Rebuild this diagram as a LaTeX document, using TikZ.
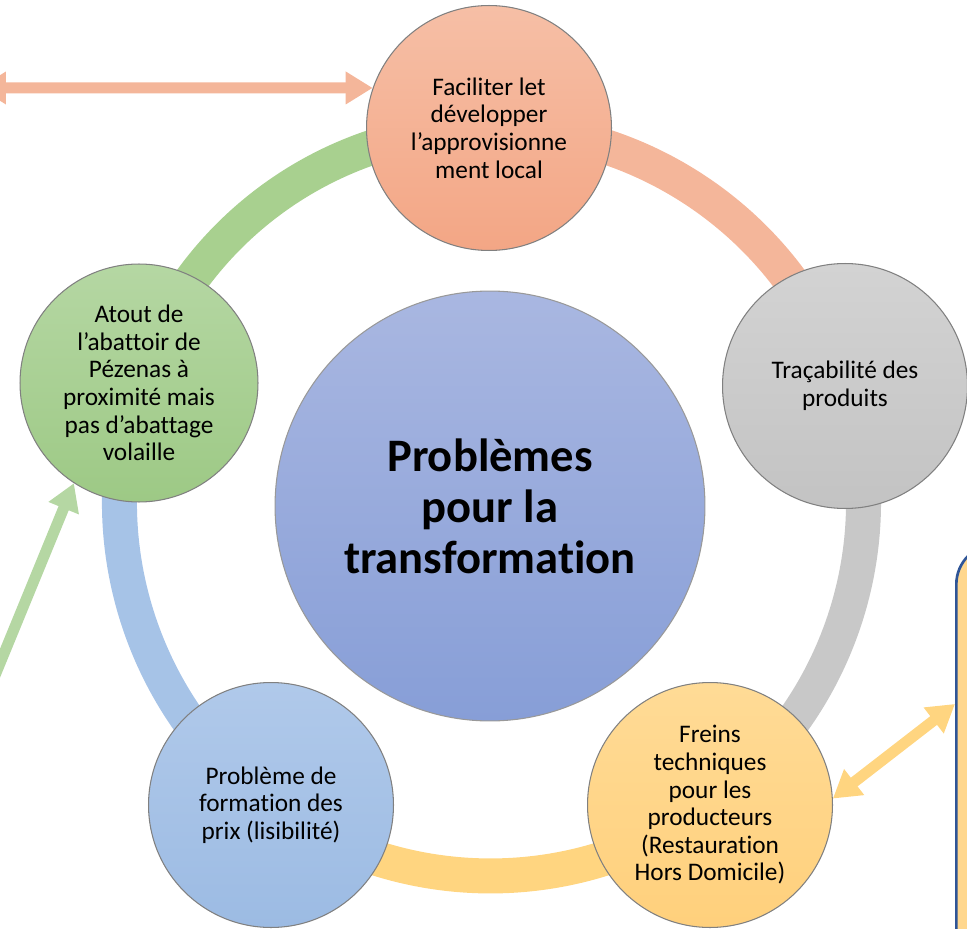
\documentclass[tikz,border=0pt]{standalone}
\usepackage{fontspec}
\setmainfont{Carlito}[Ligatures = NoCommon]
\usetikzlibrary{arrows.meta}
\usetikzlibrary{backgrounds}

\definecolor{salmonTop}{HTML}{F6BFA6}
\definecolor{salmonBot}{HTML}{F3A685}
\definecolor{salmonRing}{HTML}{F4B69A}
\definecolor{grayTop}{HTML}{D3D3D3}
\definecolor{grayBot}{HTML}{C3C3C3}
\definecolor{grayRing}{HTML}{C8C8C8}
\definecolor{yellowTop}{HTML}{FFDB96}
\definecolor{yellowBot}{HTML}{FFD07C}
\definecolor{yellowRing}{HTML}{FFD580}
\definecolor{blueTop}{HTML}{B0C9EA}
\definecolor{blueBot}{HTML}{9CBBE3}
\definecolor{blueRing}{HTML}{A6C3E7}
\definecolor{greenTop}{HTML}{B5D7A3}
\definecolor{greenBot}{HTML}{9DC985}
\definecolor{greenRing}{HTML}{A8D08F}
\definecolor{coreTop}{HTML}{A9B7E1}
\definecolor{coreBot}{HTML}{879ED7}
\definecolor{noteFill}{HTML}{FFD78E}
\definecolor{noteLine}{HTML}{2F5597}

\begin{document}
\begin{tikzpicture}[x = 0.02cm, y = 0.02cm]
\tikzstyle{smallCircle} = [shape = circle, minimum size = 4.9cm, inner sep = 0pt, draw = black!50, line width = 0.6pt, align = center, font = \fontsize{14.4}{15.7}\selectfont]
\tikzstyle{coreCircle} = [shape = circle, minimum size = 8.6cm, inner sep = 0pt, draw = black!40, line width = 0.6pt, align = center, top color = coreTop, bottom color = coreBot, font = \fontsize{26.5}{29}\selectfont\bfseries]
\tikzstyle{ringStyle} = [line width = 0.7cm, bend left = 36, looseness = 0.94]
\tikzstyle{fatArrow} = [line width = 0.22cm, >={Triangle[width = 0.62cm, length = 0.54cm]}]
\useasboundingbox (0,0) rectangle (967,-929);
\node[style = coreCircle] (core) at (490,-506) {Problèmes\\pour la\\transformation};
\node[style = smallCircle, top color = salmonTop, bottom color = salmonBot] (top) at (489,-128) {Faciliter let\\développer\\l’approvisionne\\ment local};
\node[style = smallCircle, top color = grayTop, bottom color = grayBot] (gray) at (845,-386) {Traçabilité des\\produits};
\node[style = smallCircle, top color = yellowTop, bottom color = yellowBot] (yellow) at (710,-805) {Freins\\techniques\\pour les\\producteurs\\(Restauration\\Hors Domicile)};
\node[style = smallCircle, top color = blueTop, bottom color = blueBot] (blue) at (271,-805) {Problème de\\formation des\\prix (lisibilité)};
\node[style = smallCircle, top color = greenTop, bottom color = greenBot, minimum size = 4.76cm] (green) at (139,-383) {Atout de\\l’abattoir de\\Pézenas à\\proximité mais\\pas d’abattage\\volaille};
\node[draw = noteLine, fill = noteFill, line width = 1.5pt, rounded corners = 0.8cm, anchor = north west, minimum width = 4cm, minimum height = 10cm] (note) at (955,-543) {};
\coordinate (leftEnd) at (-21,-88);
\coordinate (lowEnd) at (-11,-690);
\begin{scope}[on background layer]
\draw[ringStyle, salmonRing] (top.center) to (gray.center);
\draw[ringStyle, grayRing] (gray.center) to (yellow.center);
\draw[ringStyle, yellowRing] (yellow.center) to (blue.center);
\draw[ringStyle, blueRing] (blue.center) to (green.center);
\draw[ringStyle, greenRing] (green.center) to (top.center);
\end{scope}
\draw[fatArrow, salmonRing, <->] (leftEnd) -- (top.161);
\draw[fatArrow, greenTop, ->] (lowEnd) -- (green.237);
\draw[fatArrow, yellowRing, <->] (yellow.3) -- ([yshift = -3.22cm]note.north west);
\end{tikzpicture}
\end{document}
